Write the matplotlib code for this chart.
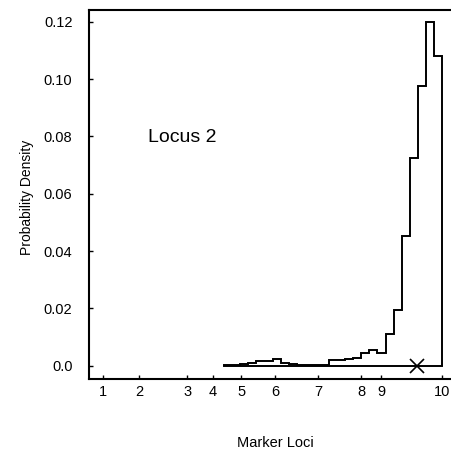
import numpy as np
import matplotlib
matplotlib.use("Agg")
from matplotlib import pyplot as plt

# marker positions along the map (arbitrary units) and their names
marker_pos = [0.0, 10.6, 24.8, 32.4, 40.7, 50.7, 63.4, 76.1, 82.0, 100.0]
marker_names = ['1', '2', '3', '4', '5', '6', '7', '8', '9', '10']

# posterior density of the locus position, one value per bin
density = [0.0002, 0.0004, 0.0006, 0.0010, 0.0017, 0.0016, 0.0022,
           0.0010, 0.0005, 0.0002, 0.0001, 0.0001, 0.0001,
           0.0020, 0.0020, 0.0024, 0.0026, 0.0043, 0.0055, 0.0045,
           0.0110, 0.0194, 0.0453, 0.0724, 0.0977, 0.1199, 0.1082]
hist_start = 35.7
hist_end = 100.0
true_pos = 92.5

y_ticks = [0.0, 0.02, 0.04, 0.06, 0.08, 0.10, 0.12]
y_labels = ['0.0', '0.02', '0.04', '0.06', '0.08', '0.10', '0.12']

plt.rcParams['font.family'] = ['Liberation Sans', 'DejaVu Sans']

fig = plt.figure(figsize=(4.52, 4.49), dpi=100)
ax = fig.add_axes([0.197, 0.156, 1.02 - 0.197, 0.978 - 0.156])

edges = np.linspace(hist_start, hist_end, len(density) + 1)
ax.stairs(density, edges, baseline=0, color='k', lw=1.4)
ax.plot([hist_start, hist_end], [0, 0], color='k', lw=1.4)
ax.plot(true_pos, 0, marker='x', ms=10, mew=1.2, color='k', ls='none')

ax.text(13.3, 0.0798, 'Locus 2', fontsize=14, ha='left', va='center')

ax.set_xlim(-4.13, 105.6)
ax.set_ylim(-0.00464, 0.1242)
ax.set_xticks(marker_pos)
ax.set_xticklabels(marker_names)
ax.set_yticks(y_ticks)
ax.set_yticklabels(y_labels)
ax.tick_params(axis='x', direction='in', length=3, width=1, pad=4, labelsize=10.5)
ax.tick_params(axis='y', direction='in', length=3, width=1, pad=12, labelsize=10.5)

for s in ['left', 'bottom', 'top']:
	ax.spines[s].set_linewidth(1.5)
ax.spines['right'].set_visible(False)

ax.set_xlabel('Marker Loci', fontsize=10.5)
ax.xaxis.set_label_coords(0.5, -0.155)
ax.set_ylabel('Probability Density', fontsize=10)
ax.yaxis.set_label_coords(-0.148, 0.493)

fig.savefig('out.png', dpi=100)
